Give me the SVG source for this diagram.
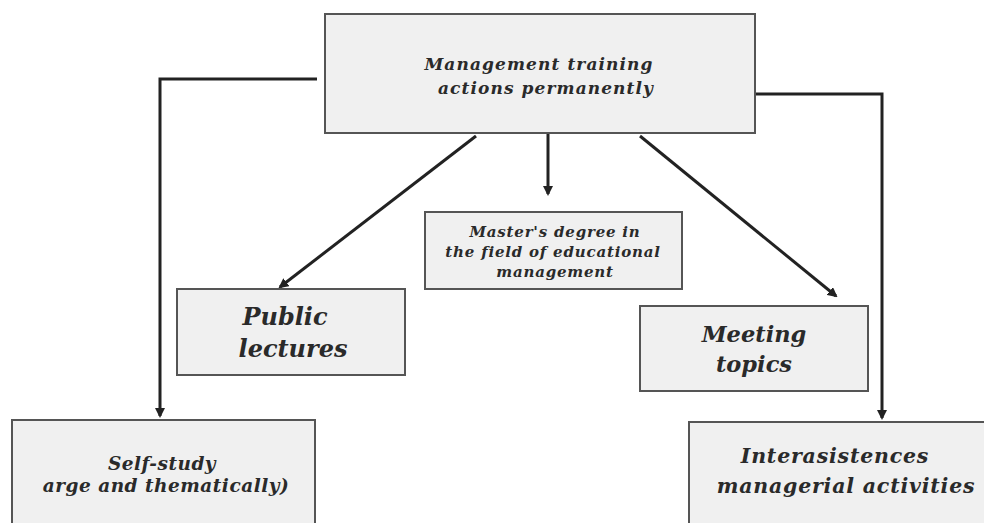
<svg xmlns="http://www.w3.org/2000/svg" width="984" height="523" viewBox="0 0 984 523">
<defs>
<style>
.box{fill:#f0f0f0;stroke:#555;stroke-width:2}
.t{font-family:"DejaVu Serif","Liberation Serif",serif;font-weight:bold;font-style:italic;fill:#2a2a2a;text-anchor:middle}
.c{fill:none;stroke:#222;stroke-width:3}
</style>
<marker id="ah" markerWidth="10" markerHeight="10" refX="8" refY="5" orient="auto" markerUnits="userSpaceOnUse">
<path d="M0,0 L10,5 L0,10 Z" fill="#222"/>
</marker>
</defs>
<rect width="984" height="523" fill="#fff"/>
<g id="connectors">
<polyline class="c" points="317,79 160,79 160,416" marker-end="url(#ah)"/>
<polyline class="c" points="756,94 882,94 882,418" marker-end="url(#ah)"/>
<line class="c" x1="548" y1="133" x2="548" y2="194" marker-end="url(#ah)"/>
<line class="c" x1="476" y1="136" x2="280" y2="287" marker-end="url(#ah)"/>
<line class="c" x1="640" y1="136" x2="836" y2="296" marker-end="url(#ah)"/>
</g>
<g id="top">
<rect class="box" x="325" y="14" width="430" height="119"/>
<text class="t" font-size="17" letter-spacing="1.1" x="539" y="70">Management training</text>
<text class="t" font-size="17" letter-spacing="1.1" x="546" y="94">actions permanently</text>
</g>
<g id="master">
<rect class="box" x="425" y="212" width="257" height="77"/>
<text class="t" font-size="15" letter-spacing="0.8" x="555" y="237">Master's degree in</text>
<text class="t" font-size="15" letter-spacing="0.8" x="553" y="257">the field of educational</text>
<text class="t" font-size="15" letter-spacing="0.8" x="555" y="277">management</text>
</g>
<g id="public">
<rect class="box" x="177" y="289" width="228" height="86"/>
<text class="t" font-size="24" x="285" y="325">Public</text>
<text class="t" font-size="24" x="293" y="357">lectures</text>
</g>
<g id="meeting">
<rect class="box" x="640" y="306" width="228" height="85"/>
<text class="t" font-size="22.5" x="754" y="342">Meeting</text>
<text class="t" font-size="22.5" x="754" y="372">topics</text>
</g>
<g id="self">
<rect class="box" x="12" y="420" width="303" height="110"/>
<text class="t" font-size="18.5" letter-spacing="0.5" x="162" y="470">Self-study</text>
<text class="t" font-size="18.5" letter-spacing="0.5" x="166" y="492">arge and thematically)</text>
</g>
<g id="inter">
<rect class="box" x="689" y="422" width="305" height="110"/>
<text class="t" font-size="20.5" letter-spacing="0.8" x="835" y="463">Interasistences</text>
<text class="t" font-size="20.5" letter-spacing="0.8" x="846" y="493">managerial activities</text>
</g>
</svg>
